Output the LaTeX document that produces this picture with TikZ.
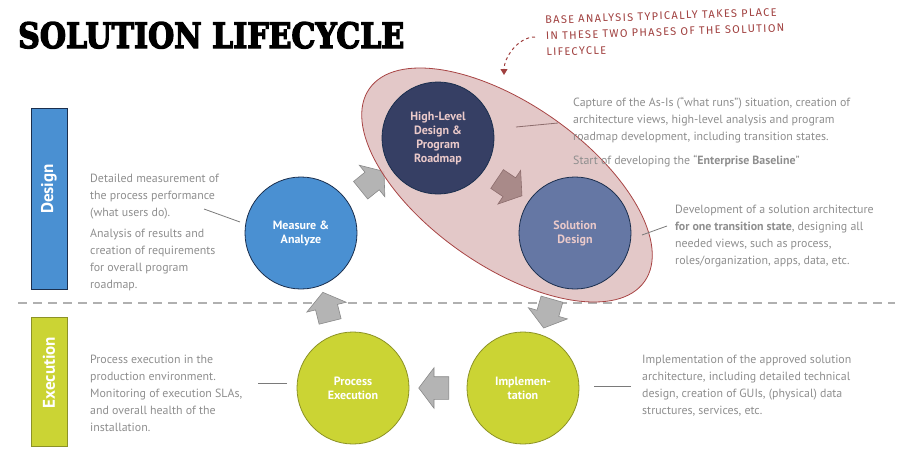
\documentclass[tikz,border=0pt]{standalone}
\usepackage{graphicx}
\usepackage{fontspec}
\setmainfont{PT Sans}
\newfontfamily\titlefont[FakeBold=4]{DejaVu Serif}
\newfontfamily\notefont[LetterSpace=12]{Fira Sans}
\usetikzlibrary{shapes.arrows}
\usetikzlibrary{arrows.meta}

\definecolor{designblue}{HTML}{4A90D2}
\definecolor{designedge}{HTML}{1B2F4E}
\definecolor{hlnavy}{HTML}{363F64}
\definecolor{sdblue}{HTML}{6577A4}
\definecolor{circlepink}{HTML}{EBCACA}
\definecolor{baselinefill}{HTML}{E0C2C2}
\definecolor{baselineedge}{HTML}{A84444}
\definecolor{execgreen}{HTML}{CBD434}
\definecolor{execedge}{HTML}{8C9226}
\definecolor{arrowgray}{HTML}{B4B4B4}
\definecolor{arrowline}{HTML}{8A8A8A}
\definecolor{arrowbrown}{HTML}{A98A89}
\definecolor{arrowbrownline}{HTML}{8D6D6D}
\definecolor{infogray}{HTML}{8E8E8E}
\definecolor{leadgray}{HTML}{7A7A7A}
\definecolor{notered}{HTML}{A0403F}
\definecolor{splitgray}{HTML}{B0B0B0}

\tikzset{
    phase/.style={circle, minimum size=112pt, inner sep=0pt, line width=0.8pt,
        align=center, font=\bfseries\fontsize{12}{14}\selectfont},
    bar/.style={rotate=90, minimum height=36pt, inner sep=0pt, line width=0.8pt},
    barlabel/.style={rotate=90, inner sep=0pt, text=white,
        font=\bfseries\fontsize{17}{20}\selectfont},
    blockarrow/.style={single arrow, draw=arrowline, fill=arrowgray, line width=0.6pt,
        minimum height=30pt, minimum width=40pt, single arrow head extend=9pt,
        single arrow tip angle=106, inner xsep=0pt, inner ysep=11pt},
    info/.style={anchor=north west, inner sep=0pt, text=infogray, align=left,
        font=\fontsize{11.9}{17}\selectfont},
    leader/.style={draw=leadgray, line width=0.8pt}
}

\begin{document}
\begin{tikzpicture}[x=1pt, y=-1pt]
    \useasboundingbox (0,0) rectangle (916,461);

    % Title and note
    \node[anchor=base west, inner sep=0pt] (title) at (18,48)
        {\resizebox{386pt}{26pt}{\titlefont\bfseries SOLUTION LIFECYCLE}};
    \node[anchor=north west, inner sep=0pt, rotate=2, align=left, text=notered,
        font=\notefont\fontsize{11}{16}\selectfont] (note) at (545,16)
        {BASE ANALYSIS TYPICALLY TAKES PLACE\\IN THESE TWO PHASES OF THE SOLUTION\\LIFECYCLE};
    \coordinate (noteStart) at (535,37);
    \coordinate (noteEnd) at (504,75);
    \draw[notered, line width=1pt, dashed, -{Triangle[length=6pt, width=7pt]}]
        (noteStart) to[out=180, in=90, looseness=0.9] (noteEnd);

    % Phase bars
    \node[bar, fill=designblue, draw=designedge, minimum width=181pt] (designbar) at (49,198.5) {};
    \node[barlabel] (designlabel) at (49,189) {Design};
    \node[bar, fill=execgreen, draw=execedge, minimum width=129pt] (execbar) at (49,381.5) {};
    \node[barlabel] (execlabel) at (49,372.5) {Execution};

    % Split between design and execution
    \coordinate (splitL) at (18,303);
    \coordinate (splitR) at (895,303);
    \draw[splitgray, line width=2pt, dash pattern=on 9pt off 6pt] (splitL) -- (splitR);

    % Cycle arrows
    \node[blockarrow, rotate=39] (toHighLevel) at (369,183.5) {};
    \node[blockarrow, rotate=-106] (toImplement) at (549,309.5) {};
    \node[blockarrow, rotate=180] (toProcess) at (438,388) {};
    \node[blockarrow, rotate=104] (toMeasure) at (327.5,311) {};

    % Baseline analysis area
    \draw[baselineedge, fill=baselinefill, fill opacity=0.9, line width=0.8pt,
        rotate around={-35:(507,185)}] (507,185) ellipse [x radius=168, y radius=81];

    % Phases
    \node[phase, fill=designblue, draw=designedge, text=white] (measure) at (301,233) {Measure \&\\Analyze};
    \node[phase, fill=hlnavy, draw=designedge, text=circlepink] (highlevel) at (438,138)
        {High-Level\\Design \&\\Program\\Roadmap};
    \node[phase, fill=sdblue, draw=designedge, text=circlepink] (soldesign) at (575,233) {Solution\\Design};
    \node[phase, fill=execgreen, draw=execedge, text=white] (procexec) at (353,388) {Process\\Execution};
    \node[phase, fill=execgreen, draw=execedge, text=white] (implement) at (523,388) {Implemen-\\tation};
    \node[blockarrow, draw=arrowbrownline, fill=arrowbrown, rotate=-34] (toSolDesign) at (506,185) {};

    % Leaders
    \coordinate (measureA) at (204,209);
    \coordinate (measureB) at (240,222);
    \draw[leader] (measureA) -- (measureB);
    \coordinate (highlevelA) at (558,123);
    \coordinate (highlevelB) at (516,127);
    \draw[leader, draw=arrowbrownline] (highlevelA) -- (highlevelB);
    \coordinate (soldesignA) at (667,226);
    \coordinate (soldesignB) at (642,235);
    \draw[leader] (soldesignA) -- (soldesignB);
    \coordinate (implementA) at (631,386);
    \coordinate (implementB) at (594,386);
    \draw[leader] (implementA) -- (implementB);
    \coordinate (procexecA) at (287,383);
    \coordinate (procexecB) at (258,383);
    \draw[leader] (procexecA) -- (procexecB);

    % Descriptions
    \node[info] (measuretext) at (90,174)
        {Detailed measurement of\\the process performance\\(what users do).\\[4pt]Analysis of results and\\creation of requirements\\for overall program\\roadmap.};
    \node[info] (highleveltext) at (573,97)
        {Capture of the As-Is (“what runs”) situation, creation of\\architecture views, high-level analysis and program\\roadmap development, including transition states.\\[7pt]Start of developing the “\textbf{Enterprise Baseline}”};
    \node[info] (soldesigntext) at (675,205)
        {Development of a solution architecture\\\textbf{for one transition state}, designing all\\needed views, such as process,\\roles/organization, apps, data, etc.};
    \node[info] (procexectext) at (90,355)
        {Process execution in the\\production environment.\\Monitoring of execution SLAs,\\and overall health of the\\installation.};
    \node[info] (implementtext) at (642,355)
        {Implementation of the approved solution\\architecture, including detailed technical\\design, creation of GUIs, (physical) data\\structures, services, etc.};
\end{tikzpicture}
\end{document}
